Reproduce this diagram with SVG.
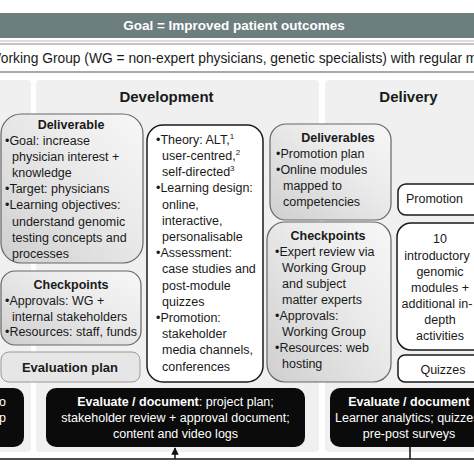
<svg xmlns="http://www.w3.org/2000/svg" width="474" height="474" viewBox="0 0 474 474">
<defs>
<linearGradient id="gg" x1="0" y1="1" x2="1" y2="0">
<stop offset="0" stop-color="#cfcfcf"/>
<stop offset="0.6" stop-color="#ebebeb"/>
<stop offset="1" stop-color="#f7f7f7"/>
</linearGradient>
<marker id="arr" viewBox="0 0 10 10" refX="9" refY="5" markerWidth="5" markerHeight="5" orient="auto">
<path d="M0,0 L10,5 L0,10 z" fill="#111"/>
</marker>
<style>
text{font-family:"Liberation Sans",Arial,sans-serif;font-size:12.5px;fill:#1a1a1a}
.b{font-weight:bold}
.c{text-anchor:middle}
.h{font-size:15px;font-weight:bold}
.w{fill:#fff}
.grey{fill:url(#gg);stroke:#666;stroke-width:1.2}
.white{fill:#fff;stroke:#1a1a1a;stroke-width:1.5}
.black{fill:#0b0b0b}
.panel{fill:#f0f0f0}
.sup{font-size:8px}
</style>
</defs>
<rect width="474" height="474" fill="#fff"/>

<g id="goal">
<rect x="0" y="13" width="474" height="25" fill="#6d7e7e"/>
<text x="234" y="30" class="c b w" style="font-size:13.5px">Goal = Improved patient outcomes</text>
</g>

<g id="working-group">
<line x1="0" y1="41" x2="474" y2="41" stroke="#bbb" stroke-width="1"/>
<line x1="0" y1="44" x2="474" y2="44" stroke="#888" stroke-width="1"/>
<line x1="0" y1="72" x2="474" y2="72" stroke="#555" stroke-width="1.2"/>
<text x="-12" y="63" style="font-size:13.8px">Working Group (WG = non-expert physicians, genetic specialists) with regular m</text>
</g>

<g id="panels">
<rect class="panel" x="-10" y="80" width="41" height="372" rx="4"/>
<rect class="panel" x="36" y="80" width="283" height="372" rx="4"/>
<rect class="panel" x="325" y="80" width="160" height="372" rx="4"/>
<text x="166.5" y="102" class="c h">Development</text>
<text x="408.5" y="102" class="c h">Delivery</text>
</g>

<g id="deliverable-left">
<rect class="grey" x="1" y="114" width="142" height="149" rx="20"/>
<text x="71" y="128.5" class="c b">Deliverable</text>
<text x="5" y="144.5">•Goal: increase</text>
<text x="12" y="160.5">physician interest +</text>
<text x="12" y="176.5">knowledge</text>
<text x="5" y="192.5">•Target: physicians</text>
<text x="5" y="209">•Learning objectives:</text>
<text x="12" y="225.5">understand genomic</text>
<text x="12" y="241.5">testing concepts and</text>
<text x="12" y="257.5">processes</text>
</g>

<g id="checkpoints-left">
<rect class="grey" x="1" y="271" width="140" height="74" rx="14"/>
<text x="71" y="288.5" class="c b">Checkpoints</text>
<text x="5" y="305">•Approvals: WG +</text>
<text x="12" y="320.5">internal stakeholders</text>
<text x="5" y="336">•Resources: staff, funds</text>
</g>

<g id="evaluation-plan">
<rect x="1" y="352" width="139" height="30" rx="8" fill="#e6e6e6" stroke="#999" stroke-width="1"/>
<text x="70" y="371.5" class="c b" style="font-size:13px">Evaluation plan</text>
</g>

<g id="design">
<rect class="white" x="147" y="125" width="116" height="257" rx="16"/>
<text x="156" y="143.8">•Theory: ALT,<tspan class="sup" dy="-5">1</tspan></text>
<text x="162" y="160">user-centred,<tspan class="sup" dy="-5">2</tspan></text>
<text x="162" y="176.2">self-directed<tspan class="sup" dy="-5">3</tspan></text>
<text x="156" y="192.4">•Learning design:</text>
<text x="162" y="208.6">online,</text>
<text x="162" y="224.8">interactive,</text>
<text x="162" y="241">personalisable</text>
<text x="156" y="257.2">•Assessment:</text>
<text x="162" y="273.4">case studies and</text>
<text x="162" y="289.6">post-module</text>
<text x="162" y="305.8">quizzes</text>
<text x="156" y="322">•Promotion:</text>
<text x="162" y="338.2">stakeholder</text>
<text x="162" y="354.4">media channels,</text>
<text x="162" y="370.6">conferences</text>
</g>

<g id="deliverables-right">
<rect class="grey" x="270" y="124" width="121" height="96" rx="16"/>
<text x="338" y="141.5" class="c b">Deliverables</text>
<text x="276" y="157.5">•Promotion plan</text>
<text x="276" y="173.5">•Online modules</text>
<text x="283" y="189.5">mapped to</text>
<text x="283" y="205.5">competencies</text>
</g>

<g id="checkpoints-right">
<rect class="grey" x="267" y="222" width="124" height="160" rx="18"/>
<text x="328" y="240" class="c b">Checkpoints</text>
<text x="275" y="256">•Expert review via</text>
<text x="282" y="271.5">Working Group</text>
<text x="282" y="288">and subject</text>
<text x="282" y="303.5">matter experts</text>
<text x="275" y="320">•Approvals:</text>
<text x="282" y="336">Working Group</text>
<text x="275" y="351.5">•Resources: web</text>
<text x="282" y="367.5">hosting</text>
</g>

<g id="promotion">
<rect class="white" x="398" y="184" width="92" height="31" rx="8"/>
<text x="406" y="203">Promotion</text>
</g>

<g id="modules">
<rect class="white" x="397" y="223" width="93" height="127" rx="14"/>
<text x="440" y="243" class="c">10</text>
<text x="437" y="259.5" class="c">introductory</text>
<text x="440" y="276" class="c">genomic</text>
<text x="440" y="292" class="c">modules +</text>
<text x="437" y="308" class="c">additional in-</text>
<text x="440" y="324" class="c">depth</text>
<text x="440" y="340" class="c">activities</text>
</g>

<g id="quizzes">
<rect class="white" x="398" y="355" width="92" height="27" rx="7"/>
<text x="443" y="373.5" class="c">Quizzes</text>
</g>

<g id="evaluate-left">
<rect class="black" x="-20" y="388" width="44" height="59" rx="10"/>
<text x="6" y="406" class="w" text-anchor="end">o</text>
<text x="6" y="422" class="w" text-anchor="end">p</text>
</g>

<g id="evaluate-development">
<rect class="black" x="46" y="388" width="259" height="59" rx="10"/>
<text x="175.5" y="406" class="c w"><tspan class="b w">Evaluate / document</tspan>: project plan;</text>
<text x="175.5" y="422" class="c w">stakeholder review + approval document;</text>
<text x="175.5" y="438" class="c w">content and video logs</text>
</g>

<g id="evaluate-delivery">
<rect class="black" x="330" y="388" width="170" height="59" rx="10"/>
<text x="409" y="406" class="c b w">Evaluate / document</text>
<text x="409" y="422" class="c w">Learner analytics; quizzes;</text>
<text x="409" y="438" class="c w">pre-post surveys</text>
</g>

<g id="connectors" fill="none" stroke="#111" stroke-width="1.5">
<line x1="0" y1="459" x2="474" y2="459"/>
<line x1="410" y1="447" x2="410" y2="459"/>
<line x1="175" y1="459" x2="175" y2="448" marker-end="url(#arr)"/>
</g>
</svg>
